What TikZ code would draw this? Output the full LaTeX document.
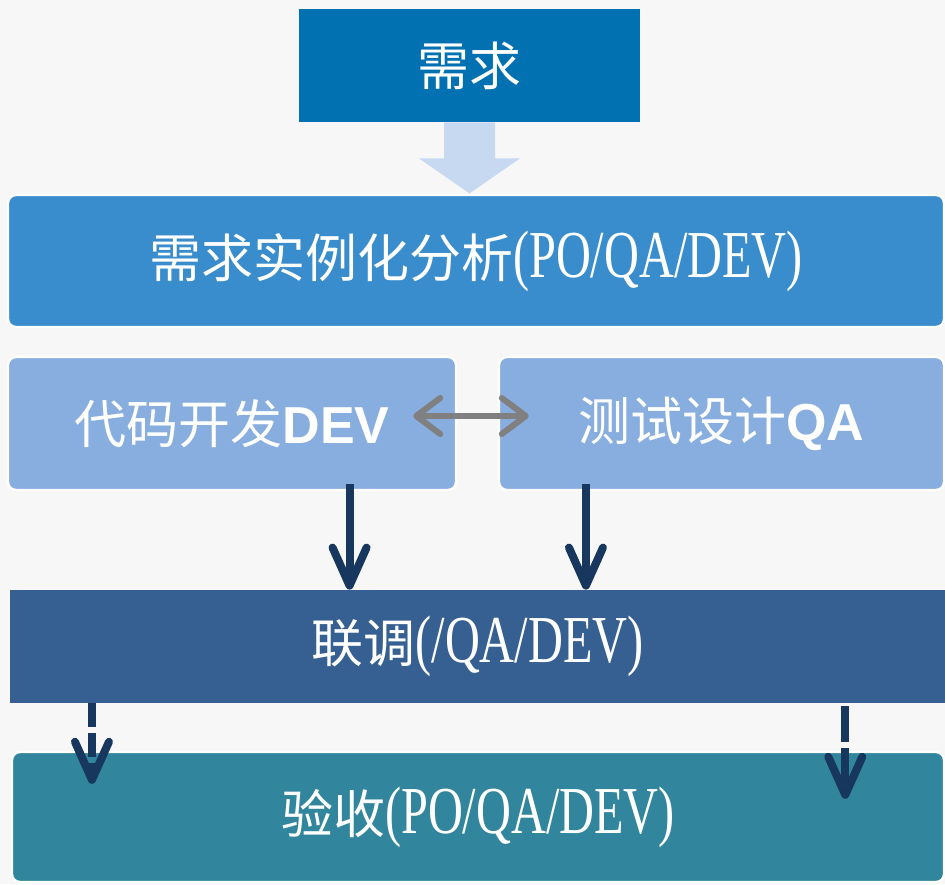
\documentclass[tikz,border=0pt]{standalone}
\usepackage{fontspec}
\setmainfont{Liberation Serif}[FakeStretch=0.72,Scale=1.29]
\newfontfamily\cjk{Noto Sans CJK SC}
\newfontfamily\arialb{Liberation Sans}
\usetikzlibrary{arrows.meta,calc}

\definecolor{bggray}{HTML}{F7F7F7}
\definecolor{needblue}{HTML}{0171B1}
\definecolor{anablue}{HTML}{3A8DCD}
\definecolor{rowblue}{HTML}{88AEE0}
\definecolor{tuneblue}{HTML}{376092}
\definecolor{accteal}{HTML}{31859C}
\definecolor{darkarrow}{HTML}{17375E}
\definecolor{paleblue}{HTML}{C6D9F1}

\tikzset{
  stage/.style={text=white, inner sep=0pt, font=\fontsize{26}{30}\selectfont},
  roundstage/.style={stage, rounded corners=4pt, draw=white, line width=1.2pt},
  down/.style={draw=darkarrow, line width=4pt,
    -{Straight Barb[length=19pt,width=17pt,round]}},
}

\begin{document}
\begin{tikzpicture}[x=0.5pt,y=-0.5pt]
  \fill[bggray] (0,0) rectangle (945,884);
  \useasboundingbox (0,0) rectangle (945,884);

  % boxes
  \node[stage, fill=needblue, minimum width=170.5pt, minimum height=56.5pt]
    (need) at (469.5,65.5) {\cjk 需求};
  \node[roundstage, fill=anablue, minimum width=468pt, minimum height=66pt]
    (ana) at (476,261) {{\cjk 需求实例化分析}(PO/QA/DEV)};
  \node[roundstage, fill=rowblue, minimum width=224pt, minimum height=66.5pt]
    (dev) at (232,423.5) {{\cjk 代码开发}{\arialb\bfseries DEV}};
  \node[roundstage, fill=rowblue, minimum width=222.5pt, minimum height=66.5pt]
    (qa) at (721.5,423.5) {{\cjk 测试设计}{\arialb\bfseries QA}};
  \node[stage, fill=tuneblue, minimum width=467.5pt, minimum height=56.5pt]
    (tune) at (477.5,646.5) {{\cjk 联调}(/QA/DEV)};
  \node[roundstage, fill=accteal, minimum width=466pt, minimum height=65pt]
    (acc) at (478,817) {\raisebox{3pt}{{\cjk 验收}(PO/QA/DEV)}};

  % need -> analysis
  \fill[paleblue] (need.south) ++(-25.5,0) -- ++(0,36) -- ++(-25,0)
    -- ++(50.5,35) -- ++(50.5,-35) -- ++(-25,0) -- ++(0,-36) -- cycle;

  % dev <-> qa
  \draw[draw=gray, line width=3pt,
    {Straight Barb[length=12pt,width=18pt,round]}-{Straight Barb[length=12pt,width=18pt,round]}]
    ([xshift=-22pt,yshift=3.75pt]dev.east) -- ([xshift=15.5pt,yshift=3.75pt]qa.west);

  % dev, qa -> tune
  \coordinate (devout) at ($(dev.south west)!0.761!(dev.south east)+(0,-7)$);
  \coordinate (qaout) at ($(qa.south west)!0.197!(qa.south east)+(0,-7)$);
  \draw[down] (devout) -- (devout |- tune.north);
  \draw[down] (qaout) -- (qaout |- tune.north);

  % tune -> acceptance
  \coordinate (tuneleft) at ($(tune.south west)!0.088!(tune.south east)$);
  \coordinate (tuneright) at ($(tune.south west)!0.893!(tune.south east)+(0,3)$);
  \draw[down, dash pattern=on 12pt off 3pt, shorten >=-16.5pt]
    (tuneleft) -- (tuneleft |- acc.north);
  \draw[down, dash pattern=on 18pt off 3pt, shorten >=-24pt]
    (tuneright) -- (tuneright |- acc.north);
\end{tikzpicture}
\end{document}
